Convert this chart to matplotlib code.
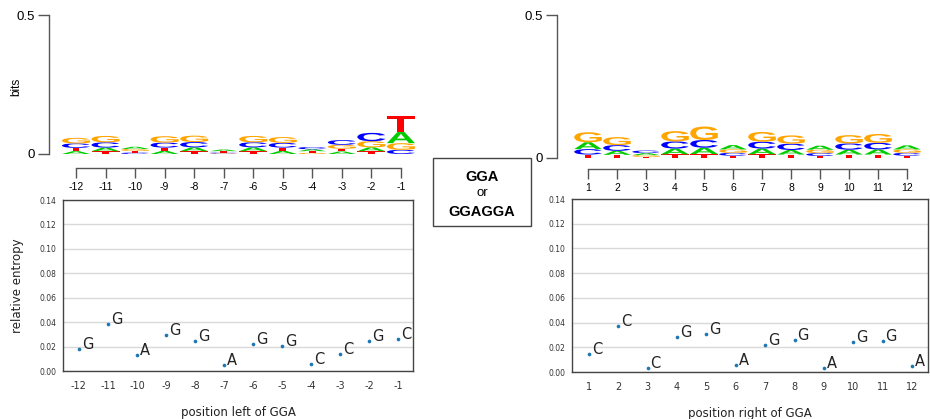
import matplotlib
matplotlib.use("Agg")
import matplotlib.pyplot as plt
from matplotlib.textpath import TextPath
from matplotlib.patches import PathPatch, Rectangle
from matplotlib.font_manager import FontProperties
from matplotlib.transforms import Affine2D

plt.rcParams["axes.unicode_minus"] = False

# --- sequence logo heights (bits) per base ---
left_pos = list(range(-12, 0))
left_A = [0.010, 0.013, 0.008, 0.011, 0.014, 0.006, 0.014, 0.011, 0.007, 0.009, 0.014, 0.040]
left_C = [0.016, 0.019, 0.005, 0.018, 0.019, 0.003, 0.018, 0.017, 0.008, 0.017, 0.030, 0.015]
left_G = [0.020, 0.023, 0.007, 0.023, 0.023, 0.002, 0.023, 0.021, 0.004, 0.014, 0.022, 0.024]
left_T = [0.012, 0.010, 0.006, 0.012, 0.010, 0.005, 0.010, 0.012, 0.006, 0.010, 0.010, 0.057]

right_pos = list(range(1, 13))
right_A = [0.024, 0.014, 0.007, 0.020, 0.022, 0.015, 0.020, 0.016, 0.014, 0.017, 0.018, 0.014]
right_C = [0.019, 0.020, 0.009, 0.025, 0.027, 0.010, 0.024, 0.022, 0.010, 0.022, 0.023, 0.010]
right_G = [0.035, 0.028, 0.006, 0.036, 0.047, 0.012, 0.034, 0.029, 0.012, 0.029, 0.031, 0.012]
right_T = [0.012, 0.011, 0.004, 0.013, 0.014, 0.008, 0.013, 0.012, 0.007, 0.012, 0.012, 0.008]

# --- relative entropy of the top base per position ---
left_ent = [0.0183, 0.0387, 0.0128, 0.0292, 0.0248, 0.0047, 0.0221, 0.0207, 0.0060, 0.0137, 0.0248, 0.0265]
left_base = ["G", "G", "A", "G", "G", "A", "G", "G", "C", "C", "G", "C"]
right_ent = [0.0149, 0.0373, 0.0032, 0.0284, 0.0306, 0.0060, 0.0219, 0.0260, 0.0030, 0.0241, 0.0247, 0.0049]
right_base = ["C", "C", "C", "G", "G", "A", "G", "G", "A", "G", "G", "A"]

base_colors = {"A": "#00cc00", "C": "#0000ff", "G": "#ffa500", "T": "#ff0000"}
logo_font = FontProperties(family="Liberation Sans", weight="bold")
W, H = 930, 419


def px_axes(x0, y0, x1, y1):
    # axes from pixel box (top-left origin)
    return fig.add_axes([x0 / W, (H - y1) / H, (x1 - x0) / W, (y1 - y0) / H])


def draw_letter(ax, ch, x, y0, h, width=0.95):
    tp = TextPath((0, 0), ch, size=1, prop=logo_font)
    bb = tp.get_extents()
    tr = (Affine2D().translate(-bb.x0, -bb.y0)
          .scale(width / bb.width, h / bb.height)
          .translate(x - width / 2, y0))
    ax.add_patch(PathPatch(tr.transform_path(tp), fc=base_colors[ch],
                           ec="none", clip_on=False))


def draw_logo(ax, pos, A, C, G, T, spine_out):
    for i, x in enumerate(pos):
        col = sorted(zip([A[i], C[i], G[i], T[i]], "ACGT"))
        y = 0.0
        for h, ch in col:
            draw_letter(ax, ch, x, y, h)
            y += h
    ax.set_ylim(0, 0.5)
    ax.set_yticks([0, 0.5])
    ax.set_yticklabels(["0", "0.5"])
    ax.set_xticks(pos)
    ax.set_xticklabels([str(p) for p in pos])
    for s in ("top", "right"):
        ax.spines[s].set_visible(False)
    for s in ("left", "bottom"):
        ax.spines[s].set_color("#555555")
        ax.spines[s].set_linewidth(1.0)
    ax.spines["bottom"].set_position(("outward", spine_out))
    ax.spines["bottom"].set_bounds(pos[0], pos[-1])
    ax.tick_params(axis="y", length=8, width=1.0, color="#555555", labelsize=9.5, pad=2)
    ax.tick_params(axis="x", length=7, width=1.0, color="#555555", labelsize=7.5, pad=3)
    for lab in ax.get_xticklabels() + ax.get_yticklabels():
        lab.set_fontfamily("Liberation Sans")
    ax.patch.set_visible(False)


def draw_entropy(ax, pos, ent, base, xlim, xlabel):
    ax.scatter(pos, ent, s=7, color="#1f77b4", zorder=3, linewidths=0)
    for x, y, b in zip(pos, ent, base):
        ax.annotate(b, (x, y), xytext=(2, 0), textcoords="offset points",
                    fontsize=10.5, va="baseline", ha="left", color="#222222")
    ax.set_xlim(*xlim)
    ax.set_ylim(0, 0.14)
    ax.set_yticks([0.0, 0.02, 0.04, 0.06, 0.08, 0.10, 0.12, 0.14])
    ax.set_xticks(pos)
    ax.set_xticks(pos[1::2], minor=True)
    ax.grid(which="major", axis="y", color="#d9d9d9", lw=1.0)
    ax.grid(which="minor", axis="x", color="#d9d9d9", lw=1.0)
    ax.set_axisbelow(True)
    ax.tick_params(axis="both", which="both", length=0)
    ax.tick_params(axis="y", labelsize=5.5, pad=5, labelcolor="#333333")
    ax.tick_params(axis="x", labelsize=7, pad=7, labelcolor="#333333")
    for s in ax.spines.values():
        s.set_color("#444444")
        s.set_linewidth(1.0)
    ax.set_xlabel(xlabel, fontsize=8.5, color="#222222", va="top")
    ax.xaxis.set_label_coords(0.5, -0.205)


fig = plt.figure(figsize=(W / 100, H / 100), dpi=100)

# left logo
ax_ll = px_axes(49, 15, 416, 154)
ax_ll.set_xlim(-12.914, -0.49)
draw_logo(ax_ll, left_pos, left_A, left_C, left_G, left_T, spine_out=10)
ax_ll.set_ylabel("bits", fontsize=8.5, family="Liberation Sans")
ax_ll.yaxis.set_label_coords(-0.074, 0.48)

# right logo
ax_rl = px_axes(557, 15, 922, 158)
ax_rl.set_xlim(-0.069, 12.517)
draw_logo(ax_rl, right_pos, right_A, right_C, right_G, right_T, spine_out=8)

# left entropy
ax_le = px_axes(63, 200, 413, 371)
draw_entropy(ax_le, left_pos, left_ent, left_base, (-12.55, -0.48), "position left of GGA")
ax_le.set_ylabel("relative entropy", fontsize=8.5, color="#222222")
ax_le.yaxis.set_label_coords(-0.111, 0.5)

# right entropy
ax_re = px_axes(572, 199, 928, 372)
draw_entropy(ax_re, right_pos, right_ent, right_base, (0.42, 12.545), "position right of GGA")

# motif box in the middle
fig.add_artist(Rectangle((433 / W, (H - 226) / H), 98 / W, 68 / H,
                         transform=fig.transFigure, fill=False,
                         ec="#444444", lw=1.0))
cx = 482 / W
fig.text(cx, (H - 177) / H, "GGA", ha="center", va="center", fontsize=10.5,
         fontweight="bold", family="Liberation Sans")
fig.text(cx, (H - 193) / H, "or", ha="center", va="center", fontsize=9.5,
         family="Liberation Sans")
fig.text(cx, (H - 212) / H, "GGAGGA", ha="center", va="center", fontsize=10.5,
         fontweight="bold", family="Liberation Sans")

fig.savefig("out.png", dpi=100)
